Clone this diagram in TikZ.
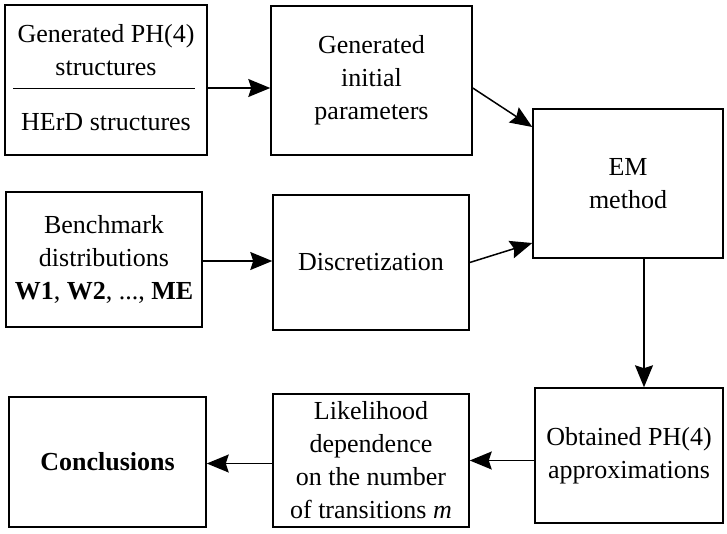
\documentclass[tikz,border=0pt]{standalone}
\usepackage{fontspec}
\setmainfont{Liberation Serif}
\usetikzlibrary{arrows.meta}
\begin{document}
\begin{tikzpicture}[x=1pt,y=-1pt,
  box/.style={draw=black,line width=1.5pt,inner sep=0pt,fill=none},
  txt/.style={align=center,inner sep=0pt,font=\fontsize{26}{33}\selectfont},
  arr/.style={line width=1.5pt,-{Stealth[length=22pt,width=18pt,inset=3pt]}}]
\useasboundingbox (0,0) rectangle (727,533);
% boxes
\node[box,minimum width=202pt,minimum height=150pt] (A) at (106,80) {};
\node[box,minimum width=201pt,minimum height=149pt,txt] (B) at (371.5,80.5) {Generated\\initial\\parameters};
\node[box,minimum width=190pt,minimum height=149pt,txt] (C) at (628,183.5) {EM\\method};
\node[box,minimum width=196pt,minimum height=135pt,txt] (D) at (104,259.5) {Benchmark\\distributions\\\textbf{W1}, \textbf{W2}, ..., \textbf{ME}};
\node[box,minimum width=196pt,minimum height=135pt,txt] (E) at (371,262.5) {Discretization};
\node[box,minimum width=188pt,minimum height=135pt,txt] (F) at (629,455.5) {Obtained PH(4)\\approximations};
\node[box,minimum width=196pt,minimum height=133pt,txt] (G) at (371,460.5) {Likelihood\\dependence\\on the number\\of transitions \textit{m}};
\node[box,minimum width=197pt,minimum height=130pt,txt] (H) at (107.5,462) {\textbf{Conclusions}};
% contents of A
\node[txt] (a1) at (106,50) {Generated PH(4)\\structures};
\node[txt] (a2) at (106,122) {HErD structures};
\coordinate (dl) at (13,88);
\coordinate (dr) at (195,88);
\draw[line width=1pt] (dl) -- (dr);
% connectors
\draw[arr] ([yshift=-8pt]A.east) -- ([yshift=-7.5pt]B.west);
\draw[arr] ([yshift=-7.5pt]B.east) -- ([yshift=56.5pt]C.west);
\draw[arr] ([yshift=-1.5pt]D.east) -- ([yshift=1.5pt]E.west);
\draw[arr] (E.east) -- ([yshift=-59.5pt]C.west);
\draw[arr] ([xshift=16pt]C.south) -- ([xshift=16pt]C.south |- F.north);
\draw[arr] (F.west |- G.east) -- (G.east);
\draw[arr] ([yshift=-3pt]G.west) -- ([yshift=-3pt]G.west -| H.east);
\end{tikzpicture}
\end{document}
